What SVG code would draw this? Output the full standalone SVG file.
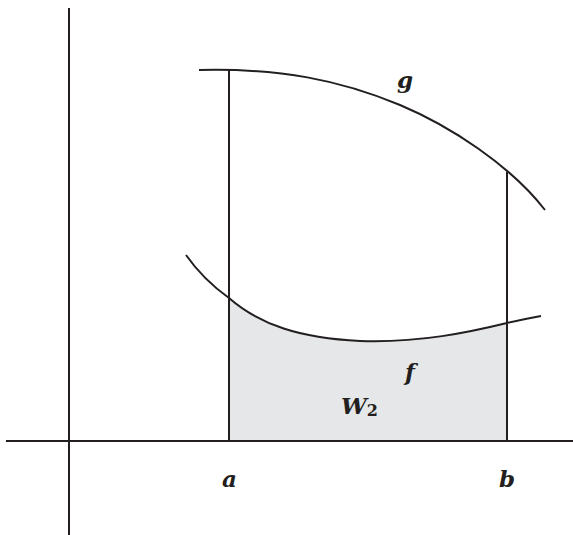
<svg xmlns="http://www.w3.org/2000/svg" width="573" height="535" viewBox="0 0 573 535">
<style>
.ax{stroke:#231f20;stroke-width:2;fill:none}
.cv{stroke:#231f20;stroke-width:2;fill:none}
.lb{font-family:"DejaVu Serif",serif;font-style:italic;font-weight:bold;font-size:23px;fill:#231f20}
</style>
<rect width="573" height="535" fill="#fff"/>
<g id="region">
<path d="M229,298 C260,325 300,338 360,341 C420,343 470,332 507,323 L507,441 L229,441 Z" fill="#e6e7e9"/>
</g>
<g id="connectors">
<line class="ax" x1="69" y1="8" x2="69" y2="535"/>
<line class="ax" x1="6" y1="441" x2="573" y2="441"/>
<line class="ax" x1="229" y1="70" x2="229" y2="441"/>
<line class="ax" x1="507" y1="172" x2="507" y2="441"/>
</g>
<g id="g">
<path class="cv" d="M199,70 C280,68 340,80 400,105 C450,126 510,165 545,210"/>
<text class="lb" x="397" y="88">g</text>
</g>
<g id="f">
<path class="cv" d="M186,255 C200,275 215,288 229,298 C260,325 300,338 360,341 C420,343 470,332 507,323 C520,320 530,318 541,316"/>
<text class="lb" x="405" y="380">f</text>
</g>
<g id="W2">
<text class="lb" x="341" y="414">W<tspan font-size="16px" font-style="normal" dy="2">2</tspan></text>
</g>
<g id="a"><text class="lb" x="222" y="487">a</text></g>
<g id="b"><text class="lb" x="499" y="487">b</text></g>
</svg>
